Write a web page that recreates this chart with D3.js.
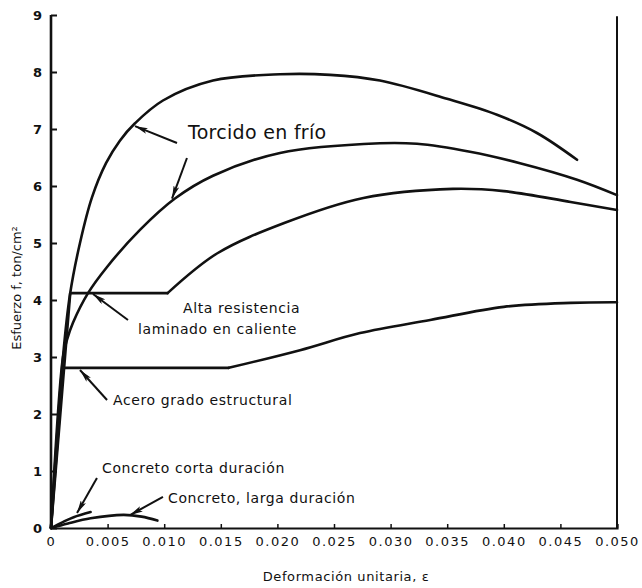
<!DOCTYPE html>
<html>
<head>
<meta charset="utf-8">
<script src="https://cdn.jsdelivr.net/npm/d3@7"></script>
<style>
  html, body { margin: 0; padding: 0; background: #fff; }
  svg { display: block; }
  text { font-family: "DejaVu Sans", sans-serif; fill: #111; }
</style>
</head>
<body>
<svg id="chart" width="642" height="588"></svg>
<script>
// ---------------- DATA ----------------
const xTickValues = [0, 0.005, 0.010, 0.015, 0.020, 0.025, 0.030, 0.035, 0.040, 0.045, 0.050];
const xTickLabels = ["0", "0.005", "0.010", "0.015", "0.020", "0.025", "0.030", "0.035", "0.040", "0.045", "0.050"];
const yTickValues = [0, 1, 2, 3, 4, 5, 6, 7, 8, 9];
const yTickLabels = ["0", "1", "2", "3", "4", "5", "6", "7", "8", "9"];

// strain (ε), stress (ton/cm²)
const torcidoSuperior = [[0,0],[0.00106,3.0],[0.00168,4.1],[0.00256,5.0],[0.00362,5.8],[0.00486,6.4],[0.00610,6.8],[0.00742,7.1],[0.00989,7.5],[0.01431,7.85],[0.02023,7.96],[0.02465,7.95],[0.02906,7.85],[0.03498,7.53],[0.03940,7.25],[0.04293,6.93],[0.04647,6.46]];
const torcidoInferior = [[0,0],[0.00106,3.0],[0.00141,3.3],[0.00194,3.6],[0.00327,4.12],[0.00495,4.58],[0.00786,5.23],[0.01095,5.78],[0.01431,6.18],[0.02023,6.58],[0.02906,6.75],[0.03233,6.74],[0.03701,6.60],[0.04143,6.40],[0.04647,6.11],[0.0500,5.84]];
const altaResistencia = [[0,0],[0.0017,4.12],[0.0103,4.12],[0.0147,4.82],[0.0206,5.35],[0.0276,5.79],[0.0355,5.95],[0.0400,5.91],[0.0459,5.72],[0.0500,5.58]];
const aceroEstructural = [[0,0],[0.00106,2.81],[0.0157,2.81],[0.0220,3.12],[0.0273,3.42],[0.0335,3.65],[0.0400,3.88],[0.0459,3.95],[0.0500,3.96]];
const concretoCorta = [[0,0],[0.0010,0.10],[0.0020,0.19],[0.0035,0.28]];
const concretoLarga = [[0,0],[0.0015,0.08],[0.0035,0.17],[0.0064,0.23],[0.0080,0.20],[0.0094,0.13]];

// index where the smooth (strain-hardening) part starts
const seriesList = [
  { pts: torcidoSuperior, knot: 0 },
  { pts: torcidoInferior, knot: 0 },
  { pts: altaResistencia, knot: 2 },
  { pts: aceroEstructural, knot: 2 },
  { pts: concretoCorta, knot: 0 },
  { pts: concretoLarga, knot: 0 }
];

// annotation labels (anchored in data units)
const labelTexts = ["Torcido en frío", "Alta resistencia", "laminado en caliente", "Acero grado estructural", "Concreto corta duración", "Concreto, larga duración"];
const labelAnchors = [[0.01210,6.825],[0.01166,3.772],[0.00769,3.404],[0.00548,2.158],[0.00451,0.965],[0.01034,0.439]];
const labelSizes = [19, 14, 14, 14, 14, 14];

// arrows: [from, to] in data units
const arrows = [
  [[0.01113,6.754],[0.00742,7.05]],
  [[0.01201,6.491],[0.01069,5.78]],
  [[0.00680,3.649],[0.00371,4.105]],
  [[0.00495,2.246],[0.00256,2.772]],
  [[0.00406,0.877],[0.00230,0.263]],
  [[0.00989,0.544],[0.00698,0.228]]
];

const xTitle = "Deformación unitaria, ε";
const yTitle = "Esfuerzo f, ton/cm²";

// ---------------- CHART ----------------
const svg = d3.select("#chart");
svg.append("rect").attr("width", 642).attr("height", 588).attr("fill", "#fff");

const x = d3.scaleLinear().domain([0, 0.05]).range([51, 617]);
const y = d3.scaleLinear().domain([0, 9]).range([528, 15]);

svg.append("defs").append("marker")
  .attr("id", "ah").attr("viewBox", "0 0 13 6")
  .attr("refX", 13).attr("refY", 3)
  .attr("markerWidth", 13).attr("markerHeight", 6)
  .attr("markerUnits", "userSpaceOnUse")
  .attr("orient", "auto")
  .append("path").attr("d", "M0,0 L13,3 L0,6 L3,3 Z").attr("fill", "#111");

// axes
const xAxis = d3.axisBottom(x).tickValues(xTickValues).tickSize(-4).tickPadding(9)
  .tickFormat((d, i) => xTickLabels[i]);
const gx = svg.append("g").attr("transform", `translate(0,${y(0)})`).call(xAxis);
gx.select(".domain").attr("stroke", "#111").attr("stroke-width", 2.2);
gx.selectAll(".tick line").attr("stroke", "#111").attr("stroke-width", 1.5);
gx.selectAll(".tick text").attr("font-size", 13).attr("letter-spacing", 1.5)
  .attr("font-family", "DejaVu Sans").attr("fill", "#111");

const yAxis = d3.axisLeft(y).tickValues(yTickValues).tickSize(-6).tickPadding(9)
  .tickFormat((d, i) => yTickLabels[i]);
const gy = svg.append("g").attr("transform", `translate(${x(0)},0)`).call(yAxis);
gy.select(".domain").attr("stroke", "#111").attr("stroke-width", 2.6).attr("d", `M0,${y(9)}V${y(0)}`);
gy.selectAll(".tick line").attr("stroke", "#111").attr("stroke-width", 2);
gy.selectAll(".tick text").attr("font-size", 13).attr("font-weight", "bold")
  .attr("font-family", "DejaVu Sans").attr("fill", "#111");

// right border
svg.append("line").attr("x1", x(0.05)).attr("x2", x(0.05))
  .attr("y1", y(8.98)).attr("y2", y(0))
  .attr("stroke", "#111").attr("stroke-width", 2);

// curves
const lin = d3.line().x(d => x(d[0])).y(d => y(d[1])).curve(d3.curveLinear);
const smooth = d3.line().x(d => x(d[0])).y(d => y(d[1])).curve(d3.curveCatmullRom.alpha(0.5));
seriesList.forEach(s => {
  if (s.knot > 0) {
    svg.append("path").attr("d", lin(s.pts.slice(0, s.knot + 1)))
      .attr("fill", "none").attr("stroke", "#111").attr("stroke-width", 2.6)
      .attr("stroke-linejoin", "round").attr("stroke-linecap", "round");
  }
  svg.append("path").attr("d", smooth(s.pts.slice(s.knot)))
    .attr("fill", "none").attr("stroke", "#111").attr("stroke-width", 2.6)
    .attr("stroke-linecap", "round");
});

// arrows
arrows.forEach(a => {
  svg.append("line")
    .attr("x1", x(a[0][0])).attr("y1", y(a[0][1]))
    .attr("x2", x(a[1][0])).attr("y2", y(a[1][1]))
    .attr("stroke", "#111").attr("stroke-width", 2)
    .attr("marker-end", "url(#ah)");
});

// labels
labelTexts.forEach((t, i) => {
  svg.append("text").attr("x", x(labelAnchors[i][0])).attr("y", y(labelAnchors[i][1]))
    .attr("font-size", labelSizes[i]).attr("letter-spacing", i === 0 ? 0.3 : 0.6)
    .text(t);
});

// axis titles
svg.append("text").attr("x", 346).attr("y", 581).attr("text-anchor", "middle")
  .attr("font-size", 13).attr("letter-spacing", 0.6).text(xTitle);
svg.append("text").attr("transform", "translate(21,288) rotate(-90)")
  .attr("text-anchor", "middle").attr("font-size", 13).text(yTitle);
</script>
</body>
</html>
